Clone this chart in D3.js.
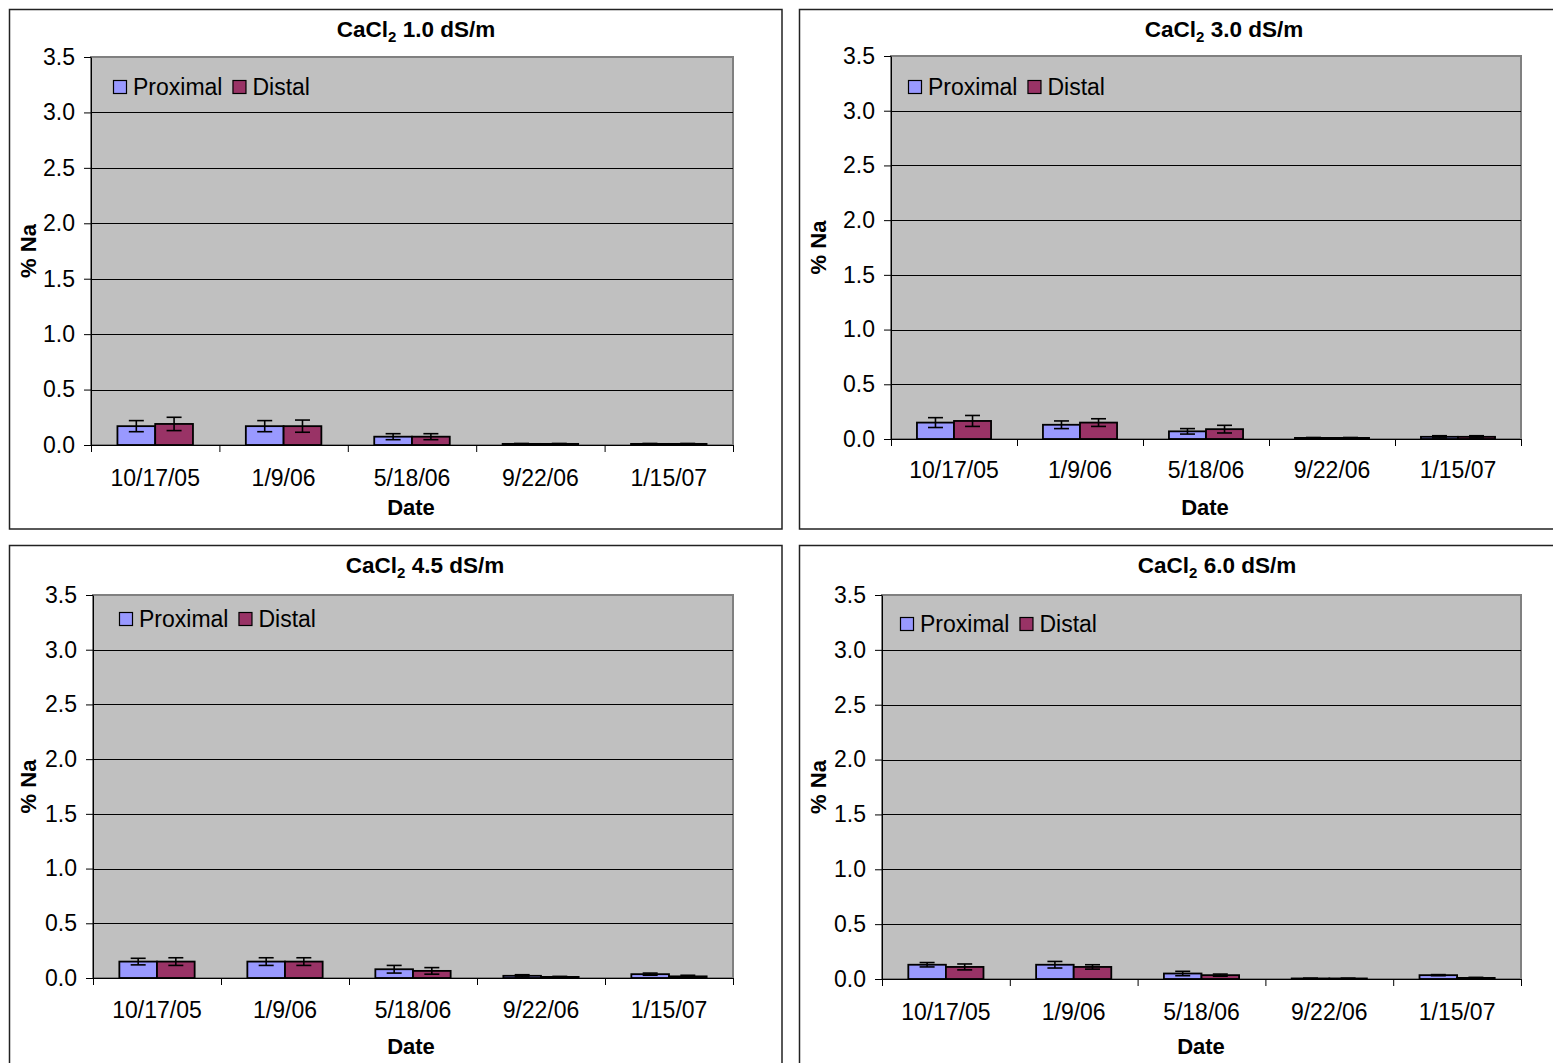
<!DOCTYPE html>
<html>
<head>
<meta charset="utf-8">
<script src="https://cdn.jsdelivr.net/npm/d3@7"></script>
<style>
  html, body { margin: 0; padding: 0; background: #fff; }
  svg { display: block; font-family: "Liberation Sans", Arial, sans-serif; }
</style>
</head>
<body>
<script>
// Sampling dates shared by all four panels
const categories = ["10/17/05", "1/9/06", "5/18/06", "9/22/06", "1/15/07"];
const seriesNames = ["Proximal", "Distal"];
const yTickValues = [0, 0.5, 1.0, 1.5, 2.0, 2.5, 3.0, 3.5];
const concentrations = ["1.0", "3.0", "4.5", "6.0"];

// % Na, CaCl2 1.0 dS/m
const proximal10 = [0.17, 0.17, 0.075, 0.01, 0.01];
const proximalErr10 = [0.05, 0.05, 0.027, 0.004, 0.004];
const distal10 = [0.19, 0.17, 0.075, 0.01, 0.01];
const distalErr10 = [0.06, 0.055, 0.027, 0.004, 0.004];

// % Na, CaCl2 3.0 dS/m
const proximal30 = [0.15, 0.13, 0.07, 0.01, 0.02];
const proximalErr30 = [0.045, 0.035, 0.025, 0.004, 0.01];
const distal30 = [0.165, 0.15, 0.09, 0.01, 0.02];
const distalErr30 = [0.05, 0.035, 0.035, 0.004, 0.01];

// % Na, CaCl2 4.5 dS/m
const proximal45 = [0.15, 0.15, 0.08, 0.02, 0.035];
const proximalErr45 = [0.03, 0.035, 0.035, 0.01, 0.01];
const distal45 = [0.15, 0.15, 0.065, 0.01, 0.015];
const distalErr45 = [0.035, 0.035, 0.03, 0.005, 0.01];

// % Na, CaCl2 6.0 dS/m
const proximal60 = [0.13, 0.13, 0.05, 0.005, 0.035];
const proximalErr60 = [0.02, 0.03, 0.02, 0.003, 0.005];
const distal60 = [0.11, 0.11, 0.035, 0.005, 0.01];
const distalErr60 = [0.027, 0.02, 0.01, 0.003, 0.005];

const seriesByPanel = [
  { prox: proximal10, proxErr: proximalErr10, dist: distal10, distErr: distalErr10 },
  { prox: proximal30, proxErr: proximalErr30, dist: distal30, distErr: distalErr30 },
  { prox: proximal45, proxErr: proximalErr45, dist: distal45, distErr: distalErr45 },
  { prox: proximal60, proxErr: proximalErr60, dist: distal60, distErr: distalErr60 }
];

const colors = { Proximal: "#9999FF", Distal: "#993366" };

// Frame, plot area and label placement for each panel
const layouts = [
  { fx: 9.5, fy: 9.5, fw: 772.5, fh: 519.5, pl: 91, pr: 733, pt: 57, pb: 445,
    titleX: 416, titleY: 37, yLabX: 28, tickY: 486, dateX: 411, dateY: 515, legX: 113, legY: 87 },
  { fx: 799.5, fy: 9.5, fw: 800, fh: 519.5, pl: 891, pr: 1521, pt: 56, pb: 439,
    titleX: 1224, titleY: 37, yLabX: 818, tickY: 478, dateX: 1205, dateY: 515, legX: 908, legY: 87 },
  { fx: 9.5, fy: 545.5, fw: 772.5, fh: 560, pl: 93, pr: 733, pt: 595, pb: 978,
    titleX: 425, titleY: 573, yLabX: 28, tickY: 1018, dateX: 411, dateY: 1054, legX: 119, legY: 619 },
  { fx: 799.5, fy: 545.5, fw: 800, fh: 560, pl: 882, pr: 1521, pt: 595, pb: 979,
    titleX: 1217, titleY: 573, yLabX: 818, tickY: 1020, dateX: 1201, dateY: 1054, legX: 900, legY: 624 }
];

const svg = d3.select("body").append("svg")
  .attr("width", 1553).attr("height", 1063);

const FONT = 23;
const gapRatio = 1 - 1 / 1.7; // 70% gap width between category groups

layouts.forEach((L, idx) => {
  const S = seriesByPanel[idx];
  const g = svg.append("g");

  // chart frame
  g.append("rect")
    .attr("x", L.fx).attr("y", L.fy).attr("width", L.fw).attr("height", L.fh)
    .attr("fill", "#fff").attr("stroke", "#222").attr("stroke-width", 1.5);

  const x = d3.scaleBand().domain(categories).range([L.pl, L.pr])
    .paddingInner(gapRatio).paddingOuter(gapRatio / 2);
  const xs = d3.scaleBand().domain(seriesNames).range([0, x.bandwidth()]);
  const y = d3.scaleLinear().domain([0, 3.5]).range([L.pb, L.pt]);
  const xEdge = d3.scaleLinear().domain([0, categories.length]).range([L.pl, L.pr]);

  // plot area
  g.append("rect")
    .attr("x", L.pl).attr("y", L.pt).attr("width", L.pr - L.pl).attr("height", L.pb - L.pt)
    .attr("fill", "#C0C0C0").attr("stroke", "#808080").attr("stroke-width", 2);

  // horizontal gridlines
  g.append("g").selectAll("line")
    .data(yTickValues.filter(v => v > 0 && v < 3.5))
    .join("line")
    .attr("x1", L.pl).attr("x2", L.pr)
    .attr("y1", d => Math.round(y(d)) + 0.5).attr("y2", d => Math.round(y(d)) + 0.5)
    .attr("stroke", "#000").attr("stroke-width", 1);

  // y axis
  const yAxis = g.append("g")
    .attr("transform", `translate(${L.pl},0)`)
    .call(d3.axisLeft(y).tickValues(yTickValues).tickFormat(d3.format(".1f"))
      .tickSize(7).tickSizeOuter(0).tickPadding(9));
  yAxis.select(".domain").attr("stroke", "#000");
  yAxis.selectAll(".tick line").attr("stroke", "#000");
  yAxis.selectAll(".tick text")
    .attr("font-size", FONT).attr("fill", "#000")
    .attr("font-family", "'Liberation Sans', Arial, sans-serif");

  // x axis with tick marks between categories
  const xAxis = g.append("g")
    .attr("transform", `translate(0,${L.pb})`)
    .call(d3.axisBottom(xEdge).tickValues(d3.range(categories.length + 1))
      .tickFormat("").tickSize(7).tickSizeOuter(0));
  xAxis.select(".domain").attr("stroke", "#000");
  xAxis.selectAll(".tick line").attr("stroke", "#000");

  g.append("g").selectAll("text")
    .data(categories)
    .join("text")
    .attr("x", d => x(d) + x.bandwidth() / 2)
    .attr("y", L.tickY)
    .attr("text-anchor", "middle")
    .attr("font-size", FONT)
    .text(d => d);

  // bars
  const rows = categories.map((c, i) => [
    { cat: c, name: "Proximal", v: S.prox[i], e: S.proxErr[i] },
    { cat: c, name: "Distal", v: S.dist[i], e: S.distErr[i] }
  ]).flat();

  g.append("g").selectAll("rect")
    .data(rows)
    .join("rect")
    .attr("x", d => x(d.cat) + xs(d.name))
    .attr("y", d => y(d.v))
    .attr("width", xs.bandwidth())
    .attr("height", d => y(0) - y(d.v))
    .attr("fill", d => colors[d.name])
    .attr("stroke", "#000").attr("stroke-width", 1.8);

  // error bars
  const eb = g.append("g").attr("stroke", "#000").attr("stroke-width", 1.6);
  const cx = d => x(d.cat) + xs(d.name) + xs.bandwidth() / 2;
  eb.selectAll("line.v").data(rows).join("line").attr("class", "v")
    .attr("x1", cx).attr("x2", cx)
    .attr("y1", d => y(d.v - d.e)).attr("y2", d => y(d.v + d.e));
  eb.selectAll("line.t").data(rows).join("line").attr("class", "t")
    .attr("x1", d => cx(d) - 7.5).attr("x2", d => cx(d) + 7.5)
    .attr("y1", d => y(d.v + d.e)).attr("y2", d => y(d.v + d.e));
  eb.selectAll("line.b").data(rows).join("line").attr("class", "b")
    .attr("x1", d => cx(d) - 7.5).attr("x2", d => cx(d) + 7.5)
    .attr("y1", d => y(d.v - d.e)).attr("y2", d => y(d.v - d.e));

  // title with subscript
  const title = g.append("text")
    .attr("x", L.titleX).attr("y", L.titleY)
    .attr("text-anchor", "middle")
    .attr("font-size", 22.5).attr("font-weight", "bold");
  title.append("tspan").text("CaCl");
  title.append("tspan").attr("font-size", 15).attr("dy", 5).text("2");
  title.append("tspan").attr("dy", -5).text(` ${concentrations[idx]} dS/m`);

  // axis titles
  g.append("text")
    .attr("transform", `translate(${L.yLabX + 8},${(L.pt + L.pb) / 2}) rotate(-90)`)
    .attr("text-anchor", "middle")
    .attr("font-size", 22).attr("font-weight", "bold")
    .text("% Na");
  g.append("text")
    .attr("x", L.dateX).attr("y", L.dateY)
    .attr("text-anchor", "middle")
    .attr("font-size", 22).attr("font-weight", "bold")
    .text("Date");

  // legend
  const leg = g.append("g");
  let lx = L.legX;
  seriesNames.forEach(name => {
    leg.append("rect")
      .attr("x", lx + 0.5).attr("y", L.legY - 6.5).attr("width", 13).attr("height", 13)
      .attr("fill", colors[name]).attr("stroke", "#000").attr("stroke-width", 1.2);
    const t = leg.append("text")
      .attr("x", lx + 20).attr("y", L.legY + 8)
      .attr("font-size", FONT).text(name);
    lx += 20 + t.node().getComputedTextLength() + 10;
  });
});
</script>
</body>
</html>
